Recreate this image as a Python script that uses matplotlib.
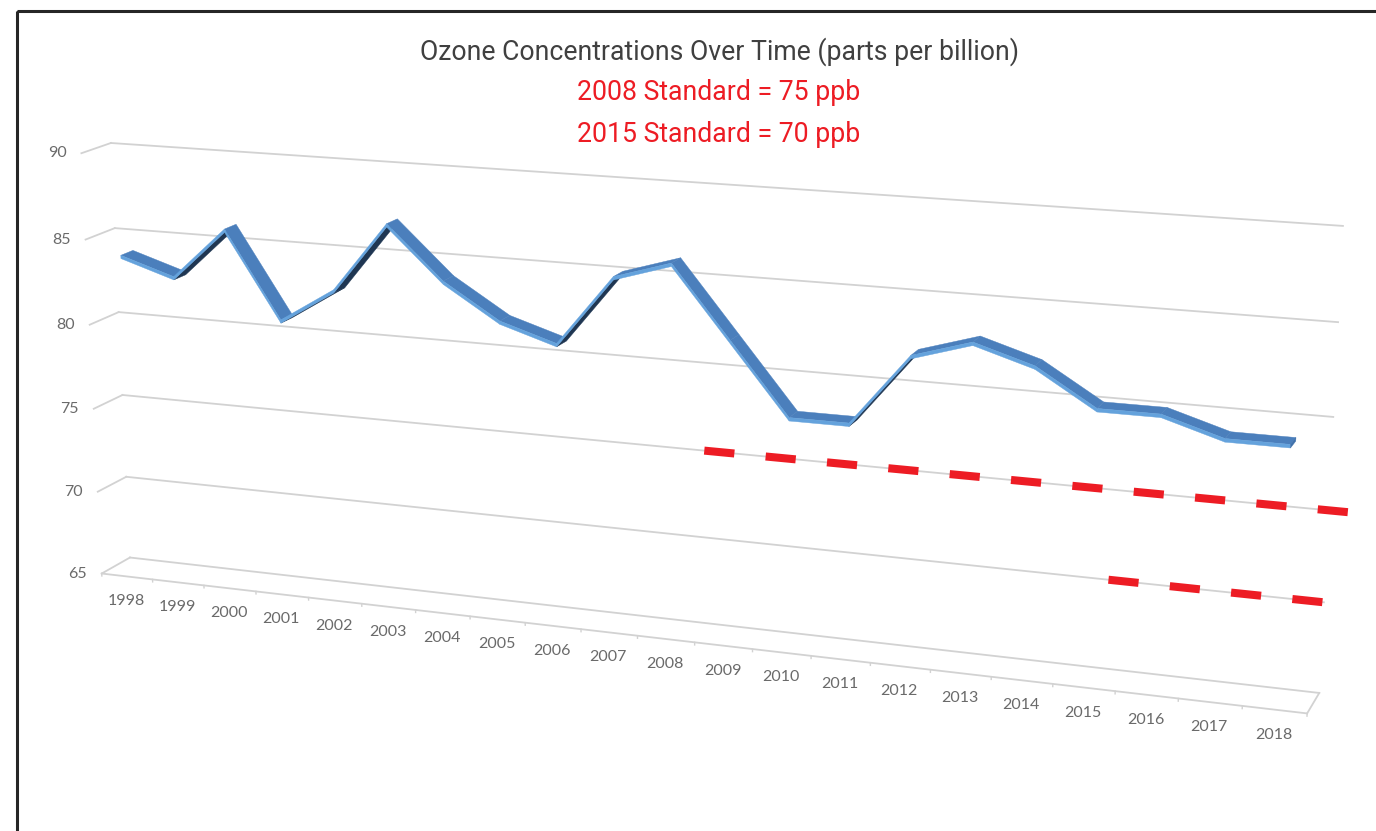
import numpy as np
import matplotlib.pyplot as plt
from matplotlib.patches import Polygon, Rectangle

# ---- data ----
years = list(range(1998, 2019))
ozone = [84, 83, 86, 81, 83, 87, 84, 82, 81, 85, 86, 82, 78, 78, 82, 83, 82, 80, 80, 79, 79]
value_ticks = [65, 70, 75, 80, 85, 90]

std_text = ["2008 Standard = 75 ppb", "2015 Standard = 70 ppb"]
std_values = [75, 70]
std_from = [2008.3, 2015.1]
std_to = [2018.8, 2018.5]

title = "Ozone Concentrations Over Time (parts per billion)"

# ---- layout ----
W, H = 1376, 831
VMIN, VMAX = value_ticks[0], value_ticks[-1]
NCAT = len(years)

# where the corners of the 3-D plot box sit in the picture
# (category pos, value, depth 0=front 1=back) -> pixel
BOX_REF = [
    ((0, 90, 1), (112, 143)), ((NCAT, 90, 1), (1343, 226)),
    ((0, 85, 1), (115, 228)), ((NCAT, 85, 1), (1338, 322)),
    ((0, 80, 1), (118, 312)), ((NCAT, 80, 1), (1333, 417)),
    ((0, 75, 1), (123, 395)), ((NCAT, 75, 1), (1329, 510)),
    ((0, 70, 1), (125, 478)), ((NCAT, 70, 1), (1323, 603)),
    ((0, 65, 1), (130, 557)), ((NCAT, 65, 1), (1320, 692)),
    ((0, 90, 0), (81, 153)), ((0, 75, 0), (93, 409)),
    ((0, 65, 0), (103, 573)), ((NCAT, 65, 0), (1307, 714)),
]

ZF, ZB, THICK = 0.29, 0.71, 0.19
TOP, FRONT, BOTTOM, CAP = "#4B7FBC", "#64A2DC", "#1F3652", "#3F70AA"
GRID = "#d2d2d2"
LABEL = "#6a6a6a"
RED = "#ED1C24"


def norm3(x, v, z):
    return np.array([np.asarray(x, float) / NCAT,
                     (np.asarray(v, float) - VMIN) / (VMAX - VMIN),
                     np.asarray(z, float)])


def fit_camera():
    rows = []
    for (x, v, z), (u, w) in BOX_REF:
        p = np.append(norm3(x, v, z), 1.0)
        u, w = u / 1000, w / 1000
        rows.append(np.concatenate([p, np.zeros(4), -u * p]))
        rows.append(np.concatenate([np.zeros(4), p, -w * p]))
    _, _, vt = np.linalg.svd(np.array(rows))
    return vt[-1].reshape(3, 4)


CAM = fit_camera()
_, _, vt = np.linalg.svd(CAM)
EYE = vt[-1][:3] / vt[-1][3]


def to_px(x, v, z):
    x, v, z = np.broadcast_arrays(np.atleast_1d(np.asarray(x, float)),
                                  np.atleast_1d(np.asarray(v, float)),
                                  np.atleast_1d(np.asarray(z, float)))
    p = np.vstack([norm3(x, v, z), np.ones(x.size)])
    h = CAM @ p
    return h[0] / h[2] * 1000, h[1] / h[2] * 1000


def line3(ax, x, v, z, **kw):
    px, py = to_px(x, v, z)
    ax.plot(px, py, **kw)


def visible(face, inside):
    a, b, c = [norm3(*p) for p in face[:3]]
    n = np.cross(b - a, c - a)
    m = norm3(*inside)
    return np.sign(n @ (EYE - a)) != np.sign(n @ (m - a))


def draw_face(ax, face, color):
    arr = np.array(face, float)
    px, py = to_px(arr[:, 0], arr[:, 1], arr[:, 2])
    ax.add_patch(Polygon(np.column_stack([px, py]), closed=True,
                         facecolor=color, edgecolor=color, linewidth=0.3, zorder=5))


fig = plt.figure(figsize=(W / 100, H / 100), dpi=100)
ax = fig.add_axes([0, 0, 1, 1])
ax.set_xlim(0, W)
ax.set_ylim(H, 0)
ax.axis("off")

# frame
ax.add_patch(Rectangle((16.5, 10.5), 3000, 3000, fill=False,
                       edgecolor="#262626", linewidth=2.2, zorder=1))

# walls and floor
for v in value_ticks:
    line3(ax, [0, NCAT], v, 1, color=GRID, lw=1.3, zorder=2)
    line3(ax, 0, v, [0, 1], color=GRID, lw=1.3, zorder=2)
line3(ax, [0, NCAT], VMIN, 0, color=GRID, lw=1.3, zorder=2)
line3(ax, NCAT, VMIN, [1, 0], color=GRID, lw=1.3, zorder=2)
for k in range(NCAT + 1):
    line3(ax, k, [VMIN, VMIN - 0.15], 0, color=GRID, lw=1.0, zorder=2)

# axis labels
for v in value_ticks:
    px, py = to_px(0, v, 0)
    ax.annotate(str(v), (px[0], py[0]), xytext=(-15, 0), textcoords="offset pixels",
                ha="right", va="center", fontsize=11.5, color=LABEL, family="Lato")
xs = np.arange(NCAT) + 0.5
for x, yr in zip(xs, years):
    px, py = to_px(x, VMIN, 0)
    ax.annotate(str(yr), (px[0], py[0]), xytext=(-1, -25), textcoords="offset pixels",
                ha="center", va="center", fontsize=11.5, color=LABEL, family="Lato")

# standards
for val, y0, y1 in zip(std_values, std_from, std_to):
    cx = np.array([y0, y1]) - years[0] + 0.5
    line3(ax, cx, val, 1, color=RED, lw=5.8, dashes=(3.75, 3.9),
          solid_capstyle="butt", dash_capstyle="butt", zorder=4)

# ozone ribbon
for i in range(NCAT - 1):
    x0, x1 = xs[i], xs[i + 1]
    v0, v1 = ozone[i], ozone[i + 1]
    tf0, tf1 = (x0, v0, ZF), (x1, v1, ZF)
    tb0, tb1 = (x0, v0, ZB), (x1, v1, ZB)
    bf0, bf1 = (x0, v0 - THICK, ZF), (x1, v1 - THICK, ZF)
    bb0, bb1 = (x0, v0 - THICK, ZB), (x1, v1 - THICK, ZB)
    inside = tuple(np.mean([tf0, tf1, tb0, tb1, bf0, bf1, bb0, bb1], axis=0))
    faces = [([tf0, tf1, tb1, tb0], TOP),
             ([bf0, bf1, bb1, bb0], BOTTOM),
             ([tf0, tf1, bf1, bf0], FRONT)]
    if i == 0:
        faces.append(([tf0, tb0, bb0, bf0], CAP))
    if i == NCAT - 2:
        faces.append(([tf1, tb1, bb1, bf1], CAP))
    for face, col in faces:
        if visible(face, inside):
            draw_face(ax, face, col)

# titles
ax.text(719, 52, title, ha="center", va="center", fontsize=19.2,
        color="#404040", family="Roboto")
ax.text(719, 93, std_text[0], ha="center", va="center", fontsize=19.2,
        color=RED, family="Roboto")
ax.text(719, 135, std_text[1], ha="center", va="center", fontsize=19.2,
        color=RED, family="Roboto")

fig.savefig("out.png", dpi=100)
